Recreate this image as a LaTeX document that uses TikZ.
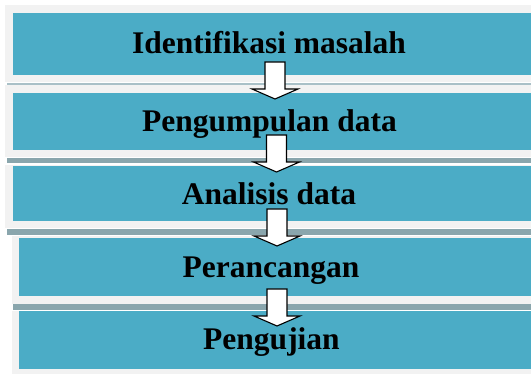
\documentclass[tikz,border=0pt]{standalone}
\usepackage{fontspec}
\setmainfont{Liberation Serif}
\definecolor{boxblue}{HTML}{4BACC6}
\definecolor{panelgray}{HTML}{F2F2F2}
\definecolor{sepA}{HTML}{A9C0C7}
\definecolor{sepB}{HTML}{8AA6AD}
\begin{document}
\begin{tikzpicture}[x=1pt,y=-1pt,
  panel/.style={fill=panelgray,draw=none},
  bluebox/.style={fill=boxblue,draw=none},
  lbl/.style={anchor=base,inner sep=0pt,font=\fontsize{31.5}{36}\selectfont\bfseries},
  blockarrow/.style={fill=white,draw=black,line width=1.1pt,line join=miter}]
\useasboundingbox[fill=white] (0,0) rectangle (531,374);
% panels
\fill[panel] (5,5) rectangle (531,82);
\fill[panel] (5,85) rectangle (531,157);
\fill[panel] (5,165) rectangle (531,228);
\fill[panel] (12,236) rectangle (531,304);
\fill[panel] (12,311) rectangle (531,374);
% separators
\fill[sepA] (7,83) rectangle (531,85.5);
\fill[sepB] (7,158) rectangle (531,163);
\fill[sepB] (7,229) rectangle (531,235);
\fill[sepB] (13,304.5) rectangle (531,310.5);
% blue boxes
\node[bluebox,anchor=north west,minimum width=518pt,minimum height=62pt,inner sep=0pt] (b1) at (13,13) {};
\node[bluebox,anchor=north west,minimum width=518pt,minimum height=57pt,inner sep=0pt] (b2) at (13,93) {};
\node[bluebox,anchor=north west,minimum width=518pt,minimum height=55pt,inner sep=0pt] (b3) at (13,166) {};
\node[bluebox,anchor=north west,minimum width=512pt,minimum height=58pt,inner sep=0pt] (b4) at (19,238) {};
\node[bluebox,anchor=north west,minimum width=512pt,minimum height=58pt,inner sep=0pt] (b5) at (19,311) {};
% labels
\node[lbl] (t1) at (269,54) {Identifikasi masalah};
\node[lbl] (t2) at (269.5,132) {Pengumpulan data};
\node[lbl] (t3) at (269,205) {Analisis data};
\node[lbl] (t4) at (271,278) {Perancangan};
\node[lbl] (t5) at (271.5,350) {Pengujian};
% block arrows
\coordinate (a1) at (275,62);
\coordinate (a2) at (276.5,135);
\coordinate (a3) at (277,209);
\coordinate (a4) at (277,289);
\foreach \a in {a1,a2,a3,a4}{
  \draw[blockarrow] ([xshift=-10pt]\a) -- ([xshift=10pt]\a) -- ([xshift=10pt,yshift=-27pt]\a)
    -- ([xshift=23pt,yshift=-27pt]\a) -- ([yshift=-37pt]\a) -- ([xshift=-23pt,yshift=-27pt]\a)
    -- ([xshift=-10pt,yshift=-27pt]\a) -- cycle;
}
\end{tikzpicture}
\end{document}
